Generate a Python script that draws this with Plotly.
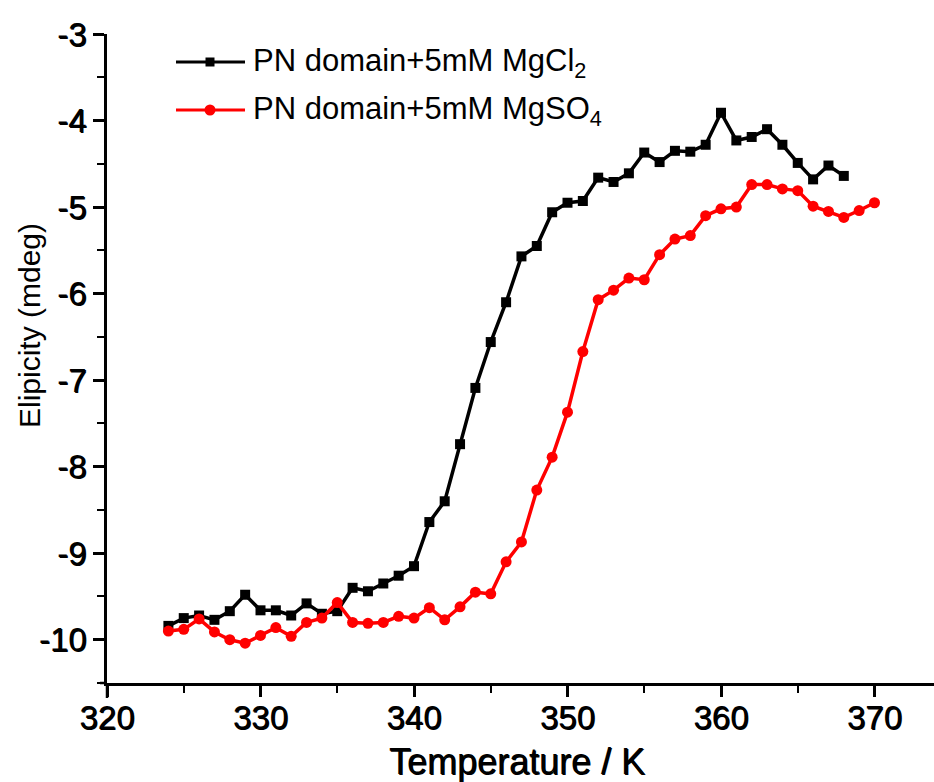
import plotly.graph_objects as go

# Temperature scans (K)
temp_cl = list(range(324, 369))
temp_so4 = list(range(324, 371))

# Ellipticity (mdeg), PN domain + 5 mM MgCl2
ell_cl = [-9.84, -9.75, -9.72, -9.77, -9.67, -9.48, -9.66, -9.66, -9.72, -9.58,
          -9.70, -9.67, -9.40, -9.44, -9.35, -9.26, -9.15, -8.64, -8.40, -7.74,
          -7.09, -6.56, -6.10, -5.57, -5.45, -5.06, -4.95, -4.93, -4.66, -4.71,
          -4.61, -4.37, -4.48, -4.35, -4.36, -4.28, -3.91, -4.23, -4.19, -4.10,
          -4.28, -4.49, -4.68, -4.52, -4.64]

# Ellipticity (mdeg), PN domain + 5 mM MgSO4
ell_so4 = [-9.90, -9.88, -9.76, -9.91, -10.00, -10.04, -9.95, -9.86, -9.96, -9.80,
           -9.75, -9.57, -9.80, -9.81, -9.80, -9.73, -9.75, -9.63, -9.77, -9.62,
           -9.45, -9.47, -9.10, -8.87, -8.27, -7.89, -7.37, -6.67, -6.07, -5.96,
           -5.82, -5.84, -5.55, -5.37, -5.33, -5.10, -5.02, -5.00, -4.74, -4.74,
           -4.79, -4.81, -4.99, -5.05, -5.12, -5.04, -4.95]

label_cl = "PN domain+5mM MgCl<sub>2</sub>"
label_so4 = "PN domain+5mM MgSO<sub>4</sub>"

x_ticks = [320, 330, 340, 350, 360, 370]
y_ticks = [-10, -9, -8, -7, -6, -5, -4, -3]
y_ticktext = [f"{v}" for v in y_ticks]  # plain hyphen-minus labels

FONT = "Liberation Sans, Arial, sans-serif"
W, H = 934, 782
L, R, T, B = 107, 0, 34, 99

fig = go.Figure()
fig.add_trace(go.Scatter(x=temp_cl, y=ell_cl, mode="lines+markers", name=label_cl,
                         line=dict(color="black", width=3.5),
                         marker=dict(symbol="square", size=10, color="black")))
fig.add_trace(go.Scatter(x=temp_so4, y=ell_so4, mode="lines+markers", name=label_so4,
                         line=dict(color="#ff0000", width=3.5),
                         marker=dict(symbol="circle", size=11, color="#ff0000")))

# pixel -> paper helpers for the plot area
pw, ph = W - L - R, H - T - B
def px(xp):
    return (xp - L) / pw
def py(yp):
    return (H - B - yp) / ph

# hand-drawn legend in the upper left
legend_rows = [(62, "black", "square", label_cl), (110, "#ff0000", "circle", label_so4)]
shapes = []
annotations = []
for yrow, col, sym, lab in legend_rows:
    shapes.append(dict(type="line", xref="paper", yref="paper",
                       x0=px(176), x1=px(245), y0=py(yrow), y1=py(yrow),
                       line=dict(color=col, width=3)))
    r = 4.5 if sym == "square" else 5.5
    shapes.append(dict(type="rect" if sym == "square" else "circle",
                       xref="paper", yref="paper",
                       x0=px(210 - r), x1=px(210 + r), y0=py(yrow + r), y1=py(yrow - r),
                       fillcolor=col, line=dict(color=col, width=0)))
    annotations.append(dict(xref="paper", yref="paper", x=px(251), y=py(yrow + 1),
                            xanchor="left", yanchor="middle", showarrow=False,
                            text=lab, font=dict(family=FONT, size=31, color="black")))

# axis titles
annotations.append(dict(xref="paper", yref="paper", x=px(517), y=py(761),
                        xanchor="center", yanchor="middle", showarrow=False,
                        text="Temperature / K",
                        font=dict(family=FONT, size=36, color="black",
                                  shadow="1px 1px 0px #000")))
annotations.append(dict(xref="paper", yref="paper", x=px(29), y=py(326),
                        xanchor="center", yanchor="middle", showarrow=False,
                        textangle=-90, text="Elipicity (mdeg)",
                        font=dict(family=FONT, size=30, color="black")))

# axis overhang at the origin corner
shapes.append(dict(type="line", xref="paper", yref="paper", x0=0, x1=0,
                   y0=0, y1=py(698), line=dict(color="black", width=2.5)))
shapes.append(dict(type="line", xref="paper", yref="paper", x0=px(100), x1=0,
                   y0=0, y1=0, line=dict(color="black", width=2.5)))

tick_font = dict(family=FONT, size=33, color="black", shadow="1px 1px 0px #000")
fig.update_layout(
    width=W, height=H, autosize=False,
    margin=dict(l=L, r=R, t=T, b=B, pad=0),
    paper_bgcolor="white", plot_bgcolor="white",
    showlegend=False,
    shapes=shapes, annotations=annotations,
    xaxis=dict(range=[320, 320 + pw / 15.35], tickvals=x_ticks, ticks="outside",
               ticklen=11, tickwidth=2.5, tickcolor="black",
               minor=dict(dtick=5, tick0=320, ticks="outside", ticklen=7,
                          tickwidth=2, tickcolor="black"),
               showline=True, linecolor="black", linewidth=3, mirror=False,
               showgrid=False, zeroline=False, tickfont=tick_font, automargin=False,
               ticklabelstandoff=-8),
    yaxis=dict(range=[-10.5, -3], tickvals=y_ticks, ticktext=y_ticktext,
               ticks="outside", ticklen=11, tickwidth=2.5, tickcolor="black",
               minor=dict(dtick=0.5, tick0=-3, ticks="outside", ticklen=7,
                          tickwidth=2, tickcolor="black"),
               showline=True, linecolor="black", linewidth=2.5, mirror=False,
               showgrid=False, zeroline=False, tickfont=dict(tick_font),
               automargin=False),
)

fig.write_html("out.html")
